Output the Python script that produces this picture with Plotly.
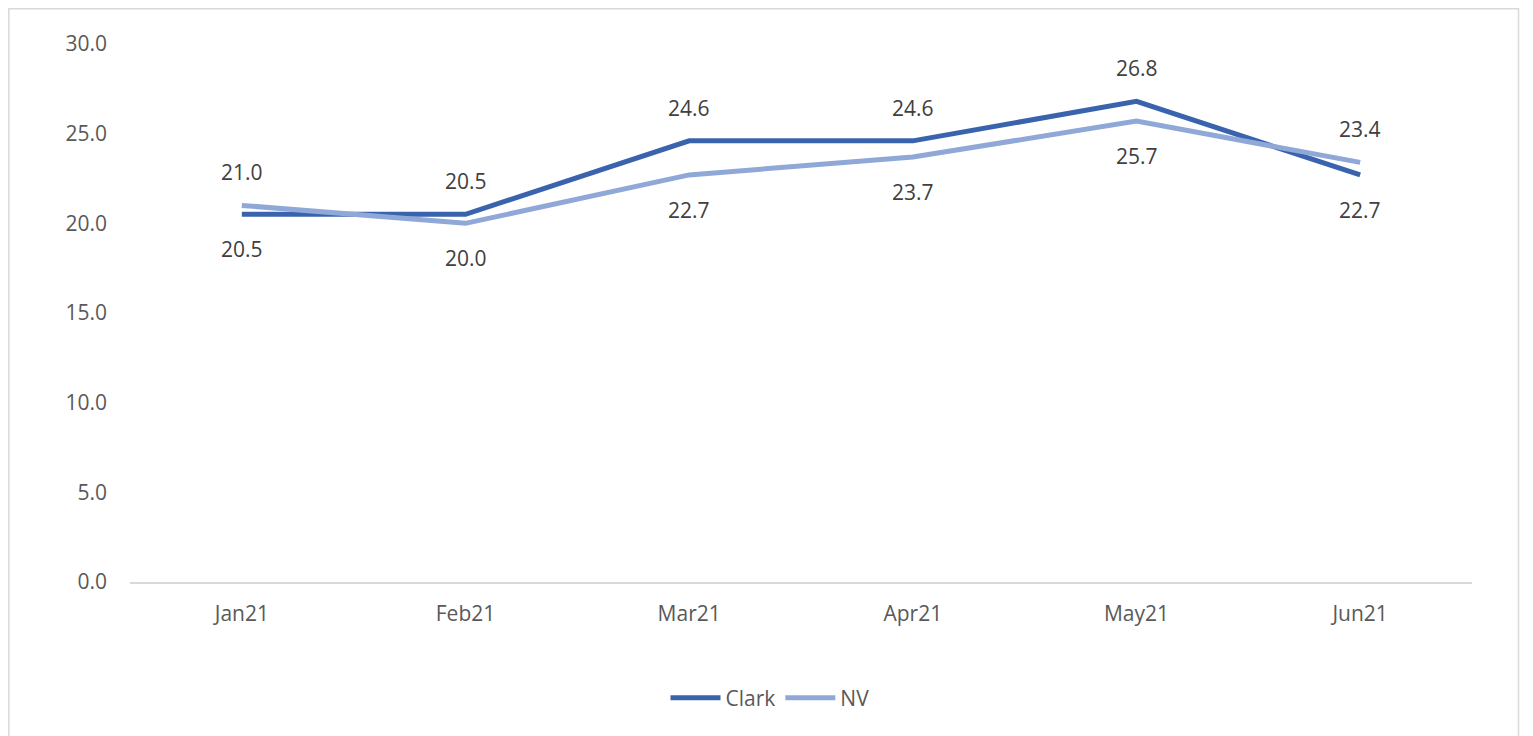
import plotly.graph_objects as go

months = ["Jan21", "Feb21", "Mar21", "Apr21", "May21", "Jun21"]
clark = [20.5, 20.5, 24.6, 24.6, 26.8, 22.7]
nv = [21.0, 20.0, 22.7, 23.7, 25.7, 23.4]
clark_label_pos = ["below", "above", "above", "above", "above", "below"]
nv_label_pos = ["above", "below", "below", "below", "below", "above"]

CLARK_COLOR = "#3A63AD"
NV_COLOR = "#8FA8D8"
FONT = "Open Sans"
FS = 21

# page has an 8px body margin; compensate so screen positions match
OFF = 8
W, H = 1533, 736
L, T = 130 - OFF, 44 - OFF
pw, ph = 1342, 538
R = W - L - pw
B = H - T - ph

fig = go.Figure()
fig.add_trace(go.Scatter(x=months, y=clark, name="Clark", mode="lines",
                         line=dict(color=CLARK_COLOR, width=5)))
fig.add_trace(go.Scatter(x=months, y=nv, name="NV", mode="lines",
                         line=dict(color=NV_COLOR, width=5)))

annotations = []
for vals, poss in ((clark, clark_label_pos), (nv, nv_label_pos)):
    for m, v, p in zip(months, vals, poss):
        annotations.append(dict(x=m, y=v, text=f"{v:.1f}", showarrow=False,
                                yshift=33 if p == "above" else -35,
                                font=dict(family=FONT, size=FS, color="#404040")))

def px_x(p):  # screen px -> paper fraction
    return (p - OFF - L) / pw
def px_y(p):
    return (T + ph - (p - OFF)) / ph

fig.update_layout(
    width=W, height=H,
    margin=dict(l=L, r=R, t=T, b=B),
    paper_bgcolor="white", plot_bgcolor="white",
    font=dict(family=FONT, size=FS, color="#595959"),
    showlegend=True,
    legend=dict(orientation="h", x=px_x(770), xanchor="center", y=px_y(698), yanchor="middle",
                font=dict(family=FONT, size=FS, color="#595959"),
                itemwidth=50, tracegroupgap=0),
    annotations=annotations,
    shapes=[dict(type="rect", xref="paper", yref="paper",
                 x0=px_x(8.8), x1=px_x(1518.5), y0=px_y(760), y1=px_y(8.8),
                 line=dict(color="#D9D9D9", width=1.5), fillcolor="rgba(0,0,0,0)",
                 layer="below")],
    xaxis=dict(type="category", range=[-0.5, 5.5], showgrid=False, zeroline=False,
               showline=True, linecolor="#D9D9D9", linewidth=1.5,
               ticks="", ticklabelstandoff=12,
               tickfont=dict(family=FONT, size=FS, color="#595959")),
    yaxis=dict(range=[0, 30], tickvals=[0, 5, 10, 15, 20, 25, 30], tickformat=".1f",
               showgrid=False, zeroline=False, showline=False, ticks="",
               ticklabelstandoff=22,
               tickfont=dict(family=FONT, size=FS, color="#595959")),
)

fig.write_html("out.html")
